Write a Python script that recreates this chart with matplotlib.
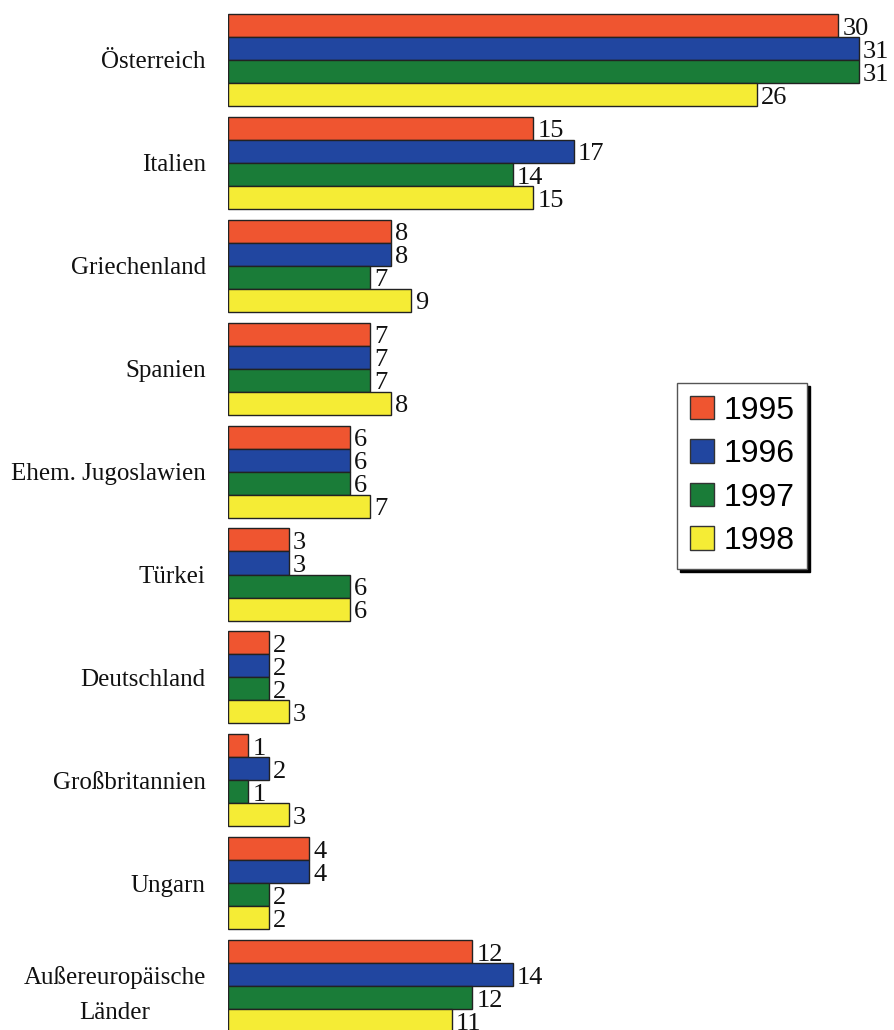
import matplotlib.pyplot as plt
import matplotlib.patches as mpatches
import numpy as np

# Werte
countries = ["Österreich", "Italien", "Griechenland", "Spanien", "Ehem. Jugoslawien",
             "Türkei", "Deutschland", "Großbritannien", "Ungarn",
             "Außereuropäische\nLänder"]
years = ["1995", "1996", "1997", "1998"]
v1995 = [30, 15, 8, 7, 6, 3, 2, 1, 4, 12]
v1996 = [31, 17, 8, 7, 6, 3, 2, 2, 4, 14]
v1997 = [31, 14, 7, 7, 6, 6, 2, 1, 2, 12]
v1998 = [26, 15, 9, 8, 7, 6, 3, 3, 2, 11]
series = [v1995, v1996, v1997, v1998]
colors = ["#EF5530", "#2146A0", "#1A7C38", "#F5EC35"]

W, H = 895, 1030
fig = plt.figure(figsize=(W / 100, H / 100), dpi=100)
ax = fig.add_axes([228 / W, 0, 1 - 228 / W, 1])

bar_h = 0.224
y = np.arange(len(countries))
for k, (vals, col) in enumerate(zip(series, colors)):
    pos = y - 1.5 * bar_h + k * bar_h
    ax.barh(pos, vals, height=bar_h, color=col, edgecolor="#222222", linewidth=1.0)
    for p, v in zip(pos, vals):
        ax.text(v + 0.2, p + 0.03, str(v), va="center", ha="left",
                fontsize=19, family="Liberation Serif", color="#111111")

ax.set_xlim(0, (W - 228) / 20.35)
ax.set_ylim((H - 60) / 102.9, -60 / 102.9)
ax.set_yticks(y)
ax.set_yticklabels(countries, fontsize=18, family="Liberation Serif", linespacing=1.75,
                   color="#111111")
for lbl in ax.get_yticklabels():
    lbl.set_multialignment("center")
ax.tick_params(axis="y", length=0, pad=16)
ax.set_xticks([])
for s in ax.spines.values():
    s.set_visible(False)

handles = [mpatches.Patch(facecolor=c, edgecolor="#333333", label=yr) for c, yr in zip(colors, years)]
leg = ax.legend(handles=handles, loc="upper left", bbox_to_anchor=((677 - 228) / (W - 228), 1 - 383 / H),
                prop={"family": "Liberation Sans", "size": 23}, frameon=True, fancybox=False,
                shadow={"color": "black", "alpha": 1}, edgecolor="#555555", borderpad=0.4,
                handlelength=0.75, handleheight=0.75, handletextpad=0.3, labelspacing=0.42,
                borderaxespad=0)
leg.get_frame().set_linewidth(1.0)

fig.savefig("out.png", dpi=100)
